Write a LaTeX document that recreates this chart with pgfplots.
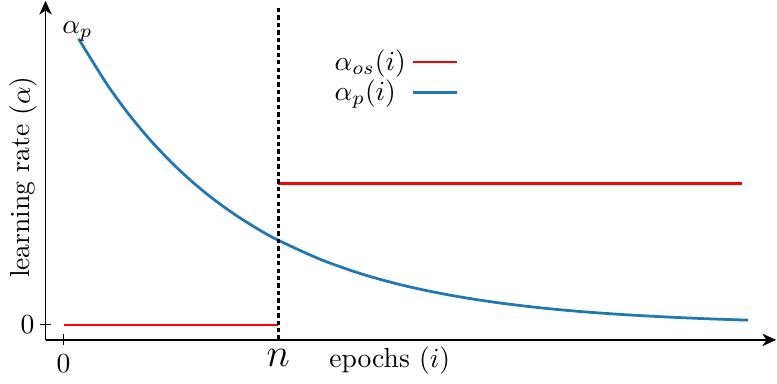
\documentclass[border=0pt]{standalone}
\usepackage{pgfplots}
\pgfplotsset{compat=1.18}
\usetikzlibrary{arrows.meta}
\definecolor{mplblue}{RGB}{31,119,180}
\begin{document}
\begin{tikzpicture}
\begin{axis}[
  scale only axis,
  width=265pt, height=123pt,
  axis lines=left,
  axis line style={-{Stealth[length=5pt,width=4.5pt,inset=1.5pt]}, line width=0.6pt},
  xmin=-0.837, xmax=33.21,
  ymin=-0.15, ymax=3.25,
  xtick={0}, xticklabels={$0$},
  extra x ticks={10}, extra x tick labels={\Large$n$},
  extra x tick style={major tick length=0pt},
  ytick={0}, yticklabels={$0$},
  yticklabel style={xshift=1.5pt},
  tick align=center,
  major tick length=4pt,
  tick style={black, line width=0.4pt},
  xlabel={epochs $(i)$},
  ylabel={learning rate $(\alpha)$},
  xlabel style={at={(axis description cs:0.471,0)}, anchor=north, yshift=1pt},
  ylabel style={at={([xshift=-8.2pt]axis description cs:0,0.48)}, anchor=center},
  legend style={at={(axis description cs:0.376,0.89)}, anchor=north west, draw=none, fill=none, row sep=-2pt},
  legend plot pos=right,
  legend cell align=left,
  legend image code/.code={\draw[#1] (0cm,0cm) -- (0.56cm,0cm);},
  clip=false,
]
\addplot[red, line width=1pt] coordinates {(0,0) (10,0)};
\addlegendentry{$\alpha_{os}(i)$}
\addplot[mplblue, line width=1pt, smooth] coordinates {
(0.7,2.870) (2,2.421) (3,2.124) (4,1.864) (5,1.636) (6,1.435) (7,1.259) (8,1.105) (9,0.969) (10,0.850)
(12,0.655) (14,0.504) (16,0.388) (18,0.299) (20,0.230) (22,0.177) (24,0.136) (26,0.105) (28,0.081) (30,0.062) (31.9,0.048)};
\addlegendentry{$\alpha_p(i)$}
\addplot[red, line width=1pt, forget plot] coordinates {(10,1.42) (31.6,1.42)};
\addplot[black, line width=1.1pt, dash pattern=on 1.6pt off 1.1pt, forget plot] coordinates {(10,-0.15) (10,3.2)};
\node[anchor=south, inner sep=1pt] at (axis cs:0.65,2.93) [yshift=-4.4pt] {$\alpha_p$};
\end{axis}
\end{tikzpicture}
\end{document}
